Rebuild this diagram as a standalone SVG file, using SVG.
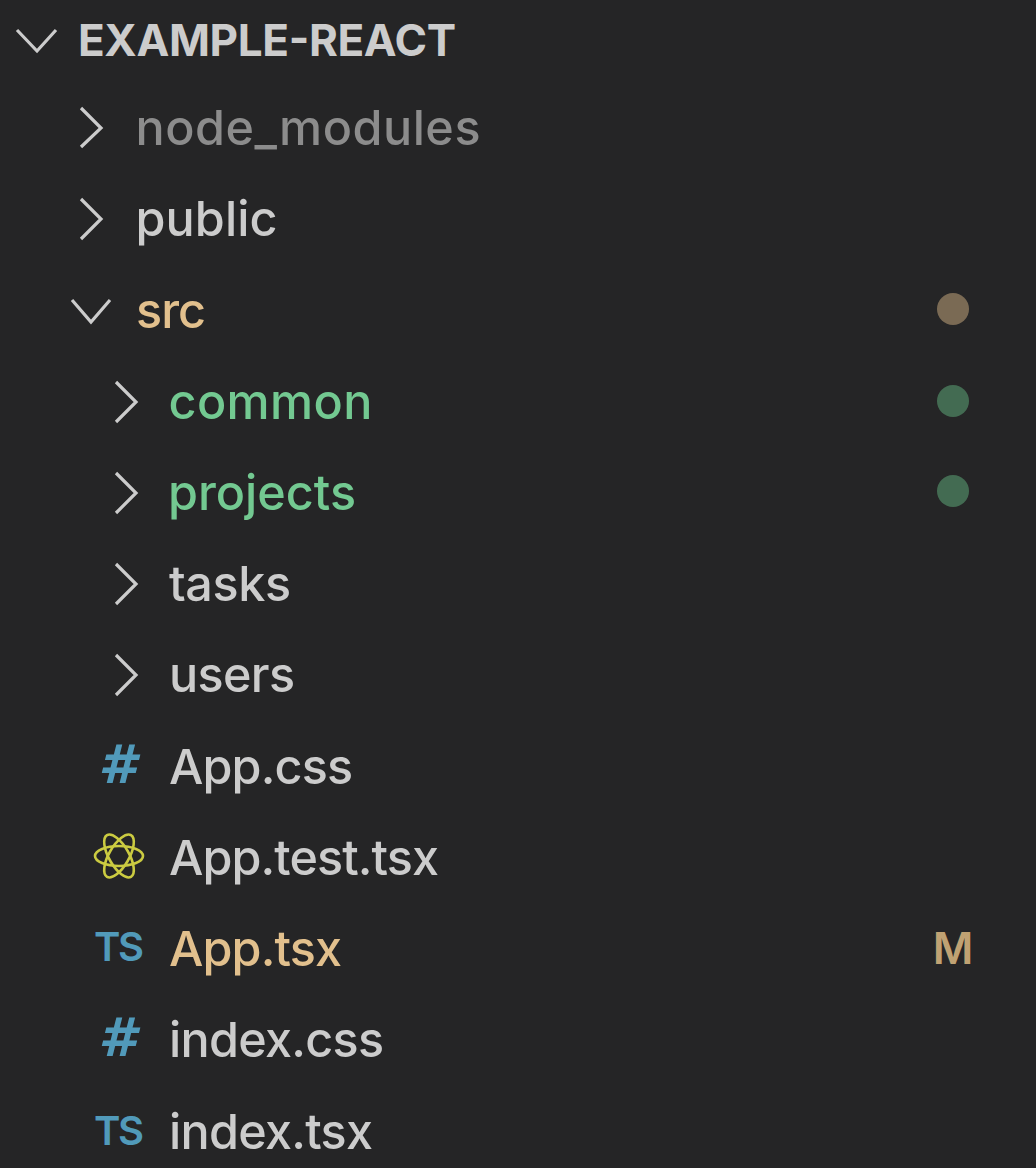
<svg xmlns="http://www.w3.org/2000/svg" width="1036" height="1168" viewBox="0 0 1036 1168">
<style>
text{font-family:Inter,"Liberation Sans",sans-serif;font-size:48.5px;font-weight:500;fill:#cccccc}
.chev{fill:none;stroke:#cccccc;stroke-width:3.2}
.g{fill:#73c991}.o{fill:#e2c08d}.dim{fill:#8c8c8c}
.ts{font-size:40px;font-weight:600;fill:#519aba}
.hash{font-family:"DejaVu Sans",sans-serif;font-size:54px;font-weight:700;font-style:italic;fill:#519aba}
</style>
<rect width="1036" height="1168" fill="#252526"/>
<g id="root"><path class="chev" d="M17 30L37 51L56 30"/><text x="78" y="56" textLength="378" style="font-size:44px;font-weight:700;fill:#cccccc">EXAMPLE-REACT</text></g>
<g id="node_modules"><path class="chev" d="M81 108L101 128L81 147"/><text class="dim" x="135.500" y="145" textLength="345">node_modules</text></g>
<g id="public"><path class="chev" d="M81 199L101 219L81 239"/><text x="135.500" y="236" textLength="142">public</text></g>
<g id="src"><path class="chev" d="M72 300L91 322L110 300"/><text class="o" x="136" y="328" textLength="70">src</text><circle cx="953" cy="309" r="16" fill="#7a6a54"/></g>
<g id="common"><path class="chev" d="M116 382L136 402L116 422"/><text class="g" x="168.500" y="419" textLength="204">common</text><circle cx="953" cy="401" r="16" fill="#436b52"/></g>
<g id="projects"><path class="chev" d="M116 473L136 493L116 513"/><text class="g" x="168" y="510" textLength="188">projects</text><circle cx="953" cy="491" r="16" fill="#436b52"/></g>
<g id="tasks"><path class="chev" d="M116 564L136 584L116 604"/><text x="169" y="601" textLength="122">tasks</text></g>
<g id="users"><path class="chev" d="M116 655L136 675L116 695"/><text x="169" y="692" textLength="126">users</text></g>
<g id="app-css"><text class="hash" x="117" y="783" text-anchor="middle">#</text><text x="169" y="784" textLength="184">App.css</text></g>
<g id="app-test"><g fill="none" stroke="#cbcb41" stroke-width="2.6"><ellipse cx="119" cy="856" rx="24" ry="10"/><ellipse cx="119" cy="856" rx="24" ry="10" transform="rotate(60 119 856)"/><ellipse cx="119" cy="856" rx="24" ry="10" transform="rotate(120 119 856)"/></g><text x="169" y="875" textLength="270">App.test.tsx</text></g>
<g id="app-tsx"><text class="ts" x="119" y="961" text-anchor="middle" textLength="50">TS</text><text class="o" x="169" y="966" textLength="173">App.tsx</text><text class="o" x="953" y="964" text-anchor="middle" style="font-size:44px;font-weight:600;fill:#c0a273">M</text></g>
<g id="index-css"><text class="hash" x="117" y="1056" text-anchor="middle">#</text><text x="169" y="1057" textLength="215">index.css</text></g>
<g id="index-tsx"><text class="ts" x="119" y="1145" text-anchor="middle" textLength="50">TS</text><text x="169" y="1149" textLength="204">index.tsx</text></g>
</svg>
